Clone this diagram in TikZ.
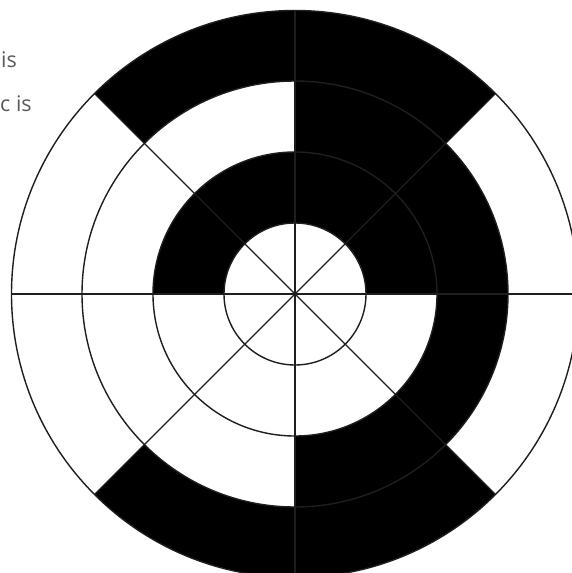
\documentclass[tikz,border=0pt]{standalone}
\usepackage{fontspec}
\setmainfont{Open Sans}
\definecolor{lineclr}{RGB}{30,30,30}
\definecolor{txtclr}{RGB}{89,89,89}
\tikzset{
  ring/.style={fill=black},
  grid line/.style={draw=lineclr, line width=1.4pt},
  label text/.style={text=txtclr, font=\fontsize{21.5}{26}\selectfont, inner sep=0pt, anchor=base west}
}
\newcommand{\annsector}[4]{% start angle, end angle, inner r, outer r
  \fill[ring] (#1:#3) arc[start angle=#1, end angle=#2, radius=#3]
    -- (#2:#4) arc[start angle=#2, end angle=#1, radius=#4] -- cycle;}
\begin{document}
\begin{tikzpicture}[x=1pt,y=1pt]
\useasboundingbox (0,-573) rectangle (571,0);
\fill[white] (0,-573) rectangle (571,0);
\node[label text] (t1) at (1,-67) {is};
\node[label text] (t2) at (0,-111) {c is};
\begin{scope}[shift={(295,-294)}]
  \coordinate (c) at (0,0);
  % ring 2
  \annsector{0}{180}{71}{142}
  % ring 3
  \annsector{-90}{90}{142}{213}
  % ring 4
  \annsector{45}{135}{213}{283.5}
  \annsector{225}{315}{213}{283.5}
  % circles
  \foreach \r in {71,142,213,283.5}
    \draw[grid line] (c) circle[radius=\r];
  % diameters
  \foreach \a in {0,45,90,135}
    \draw[grid line] (\a:283.5) -- (\a+180:283.5);
\end{scope}
\end{tikzpicture}
\end{document}
